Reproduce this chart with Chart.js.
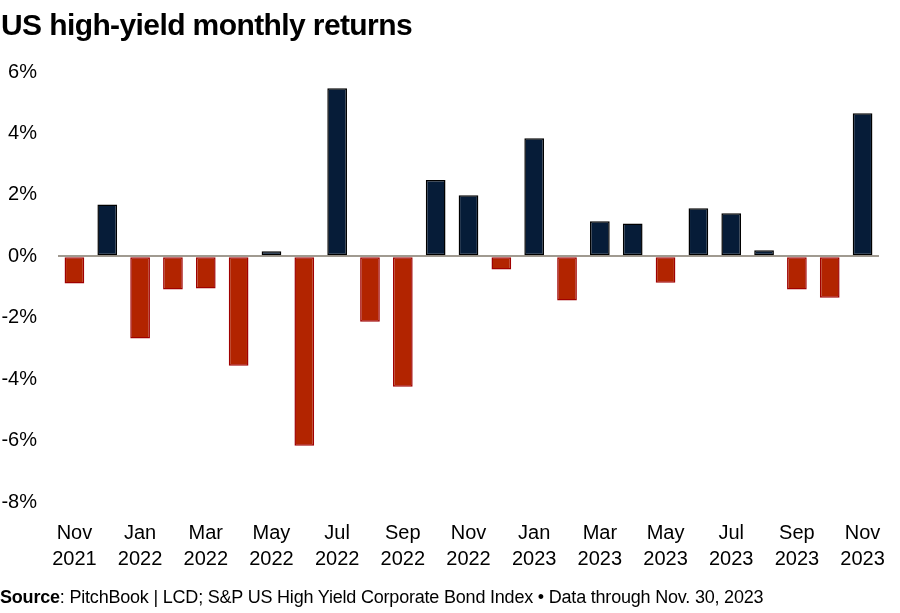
<!DOCTYPE html>
<html>
<head>
<meta charset="utf-8">
<script src="https://cdn.jsdelivr.net/npm/chart.js@4.4.1/dist/chart.umd.min.js"></script>
<style>
  html, body { margin: 0; padding: 0; background: #fff; }
  body { width: 900px; height: 613px; position: relative; overflow: hidden; font-family: "Liberation Sans", Arial, sans-serif; }
  #title { position: absolute; left: 1px; top: 8px; font-size: 30px; font-weight: bold; letter-spacing: -0.6px; color: #000; white-space: nowrap; }
  #source { position: absolute; left: 0; top: 587px; font-size: 18px; letter-spacing: -0.2px; color: #000; white-space: nowrap; }
  #wrap { position: absolute; left: 0; top: 0; width: 900px; height: 613px; }
</style>
</head>
<body>
<div id="wrap"><canvas id="chart"></canvas></div>
<div id="title">US high-yield monthly returns</div>
<div id="source"><b>Source</b>: PitchBook | LCD; S&amp;P US High Yield Corporate Bond Index • Data through Nov. 30, 2023</div>
<script>
// monthly returns, Nov 2021 .. Nov 2023 (%)
const months = ['Nov', 'Dec', 'Jan', 'Feb', 'Mar', 'Apr', 'May', 'Jun', 'Jul', 'Aug', 'Sep', 'Oct',
                'Nov', 'Dec', 'Jan', 'Feb', 'Mar', 'Apr', 'May', 'Jun', 'Jul', 'Aug', 'Sep', 'Oct', 'Nov'];
const years = ['2021', '2021', '2022', '2022', '2022', '2022', '2022', '2022', '2022', '2022', '2022', '2022',
               '2022', '2022', '2023', '2023', '2023', '2023', '2023', '2023', '2023', '2023', '2023', '2023', '2023'];
const returns = [-0.89, 1.69, -2.68, -1.08, -1.05, -3.56, 0.16, -6.17, 5.47, -2.13, -4.25, 2.48,
                 1.99, -0.43, 3.84, -1.44, 1.14, 1.07, -0.86, 1.56, 1.40, 0.20, -1.08, -1.35, 4.66];
const yTicks = [-8, -6, -4, -2, 0, 2, 4, 6];

const labels = months.map((m, i) => [m, years[i]]);
const navy = '#061c38', red = '#b22400';

new Chart(document.getElementById('chart'), {
  type: 'bar',
  data: {
    labels: labels,
    datasets: [{
      data: returns,
      backgroundColor: returns.map(v => v >= 0 ? navy : red),
      borderColor: returns.map(v => v >= 0 ? '#000' : '#a00000'),
      borderWidth: 1.5,
      borderSkipped: false,
      categoryPercentage: 1,
      barPercentage: 0.6
    }]
  },
  options: {
    responsive: true,
    maintainAspectRatio: false,
    animation: false,
    layout: { padding: { top: 72, right: 21, bottom: 0, left: 0 } },
    plugins: { legend: { display: false }, tooltip: { enabled: false } },
    scales: {
      x: {
        grid: { display: false, drawTicks: false },
        border: { display: false },
        afterFit: s => { s.height = 111; s.paddingRight = 0; s.paddingLeft = 0; },
        ticks: {
          autoSkip: false, maxRotation: 0, color: '#000', padding: 18,
          font: { family: 'Liberation Sans', size: 20, lineHeight: 1.3 },
          callback: function (v, i) { return i % 2 === 0 ? labels[i] : ''; }
        }
      },
      y: {
        min: -8, max: 6,
        afterFit: s => { s.width = 58; s.paddingTop = 0; s.paddingBottom = 0; },
        afterBuildTicks: s => { s.ticks = yTicks.map(v => ({ value: v })); },
        grid: {
          drawTicks: false,
          color: c => c.tick && c.tick.value === 0 ? '#a09a90' : 'rgba(0,0,0,0)',
          lineWidth: 2
        },
        border: { display: false },
        ticks: {
          color: '#000', padding: 21,
          font: { family: 'Liberation Sans', size: 20 },
          callback: v => v + '%'
        }
      }
    }
  }
});
</script>
</body>
</html>
